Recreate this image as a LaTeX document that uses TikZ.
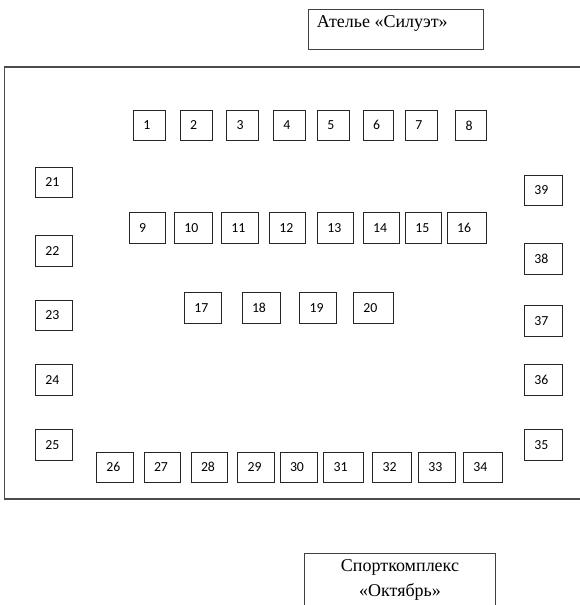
\documentclass[tikz,border=0pt]{standalone}
\usepackage{fontspec}
\setmainfont{Liberation Serif}
\newfontfamily\numfont{Carlito}
\usetikzlibrary{calc}
\tikzset{
  sbox/.style={draw=black!85, line width=0.8pt, inner xsep=10pt, inner ysep=0pt,
    align=left, font=\numfont\fontsize{13.8}{14}\selectfont},
  outerframe/.style={draw=black!70, line width=1.2pt},
  signbox/.style={draw=black!75, line width=1pt, inner sep=0pt},
  signtext/.style={font=\fontsize{18}{25}\selectfont, inner sep=0pt}
}
\newcommand\bx[5]{%
  \pgfmathsetmacro\bxw{#3-#1-20}%
  \pgfmathsetmacro\bxh{#4-#2}%
  \node[sbox, text width=\bxw pt, minimum height=\bxh pt] (n#5) at ({(#1+#3)/2},{(#2+#4)/2}) {#5};}
\begin{document}
\begin{tikzpicture}[x=1pt,y=-1pt]
\useasboundingbox (0,0) rectangle (580,605);
% outer frame
\draw[outerframe] (4.7,67) rectangle (586,499);
% top sign
\node[signbox, minimum width=175pt, minimum height=40pt, anchor=north west] (atelier) at (308,9) {};
\node[signtext, anchor=base west] (ateliertxt) at ($(atelier.north west)+(8.7,18.2)$) {Ателье «Силуэт»};
% bottom sign
\node[signbox, minimum width=190.4pt, minimum height=60pt, anchor=north west] (sport) at (304.3,552.7) {};
\node[signtext, anchor=base] (sporttxt1) at ($(sport.north)+(0,19)$) {Спорткомплекс};
\node[signtext, anchor=base] (sporttxt2) at ($(sport.north)+(0,44)$) {«Октябрь»};
% row 1
\bx{133.3}{110}{165.3}{140.7}{1}
\bx{180}{110}{212}{140.7}{2}
\bx{226.7}{110}{258.7}{140.7}{3}
\bx{273.3}{110}{305.7}{140.7}{4}
\bx{317.3}{110}{349.3}{140.7}{5}
\bx{363}{110}{393.7}{140.7}{6}
\bx{405.3}{110}{437.3}{140.7}{7}
\bx{455.7}{110}{486.3}{140.7}{8}
% row 2
\bx{129}{212.7}{165.3}{243.7}{9}
\bx{174.3}{212.7}{212}{243.7}{10}
\bx{221.3}{212.7}{258.7}{243.7}{11}
\bx{269.3}{212.7}{305.7}{243.7}{12}
\bx{317.3}{212.7}{353.3}{243.7}{13}
\bx{363}{212.7}{399.3}{243.7}{14}
\bx{405.3}{212.7}{441.7}{243.7}{15}
\bx{447}{212.7}{486.3}{243.7}{16}
% row 3
\bx{184.3}{292.3}{221.7}{323}{17}
\bx{242}{292.3}{280.7}{323}{18}
\bx{299.7}{292.3}{336.3}{323}{19}
\bx{353.3}{292.3}{393.7}{323}{20}
% left column
\bx{35.3}{167.3}{72.7}{197.7}{21}
\bx{35.3}{235.7}{72.7}{266.7}{22}
\bx{35.3}{300}{72.7}{330.7}{23}
\bx{35.3}{364.3}{72.7}{395}{24}
\bx{35.3}{429.3}{72.7}{460}{25}
% bottom row
\bx{96.3}{452.3}{133.7}{482}{26}
\bx{144}{452.3}{180.3}{482}{27}
\bx{191}{452.3}{227.3}{482}{28}
\bx{237.7}{452.3}{274}{482}{29}
\bx{280}{452.3}{317.7}{482}{30}
\bx{323.7}{452.3}{363.7}{482}{31}
\bx{372.7}{452.3}{411}{482}{32}
\bx{418.3}{452.3}{455.7}{482}{33}
\bx{463.3}{452.3}{502.7}{482}{34}
% right column
\bx{524.3}{429.3}{562.7}{460}{35}
\bx{524.3}{364}{562.7}{395}{36}
\bx{524.3}{305.7}{562.7}{336.3}{37}
\bx{524.3}{243.3}{562.7}{274}{38}
\bx{524.3}{175}{562.7}{205.7}{39}
\end{tikzpicture}
\end{document}
